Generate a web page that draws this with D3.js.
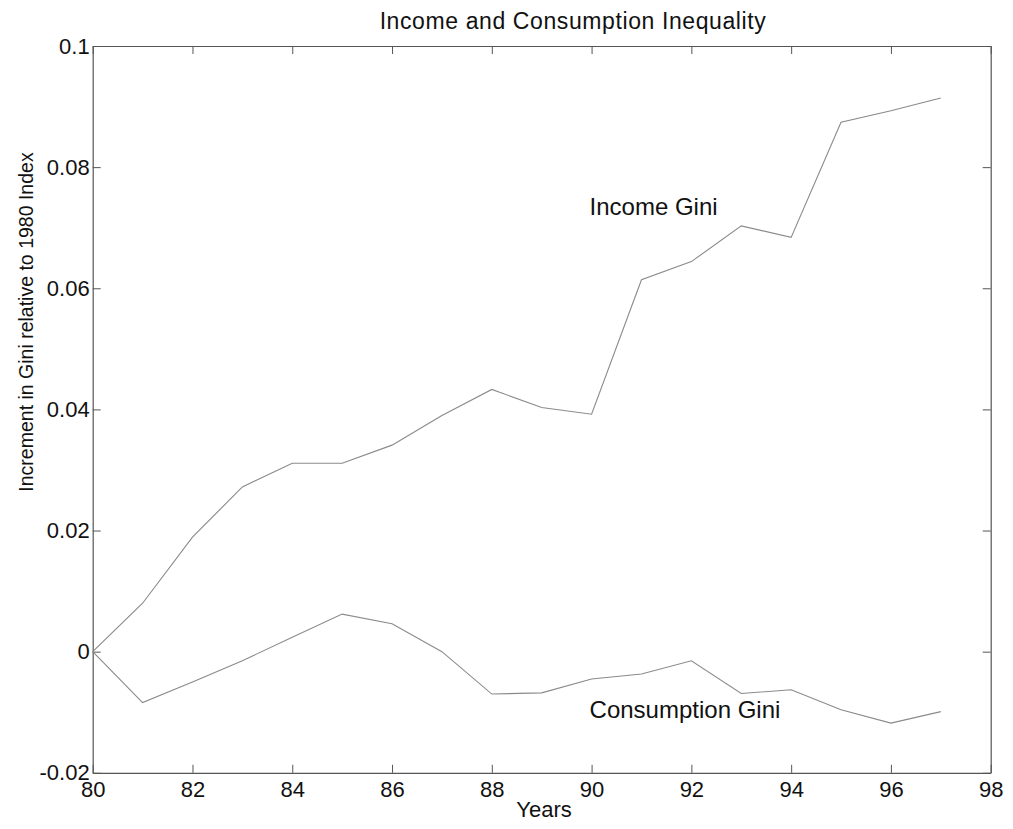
<!DOCTYPE html>
<html>
<head>
<meta charset="utf-8">
<script src="https://cdn.jsdelivr.net/npm/d3@7"></script>
<style>
  body { margin: 0; background: #fff; }
  text { font-family: "Liberation Sans", Arial, Helvetica, sans-serif; fill: #111; }
</style>
</head>
<body>
<div id="chart"></div>
<script>
// data
var years = [80,81,82,83,84,85,86,87,88,89,90,91,92,93,94,95,96,97];
var incomeGini = [0,0.008,0.0189,0.0272,0.0311,0.0311,0.0341,0.039,0.0433,0.0403,0.0392,0.0614,0.0644,0.0703,0.0684,0.0874,0.0893,0.0914];
var consumptionGini = [0,-0.0084,-0.005,-0.0015,0.0024,0.0062,0.0046,0,-0.007,-0.0068,-0.0045,-0.0037,-0.0015,-0.0069,-0.0063,-0.0096,-0.0118,-0.0099];
var xTicks = [80,82,84,86,88,90,92,94,96,98];
var yTicks = [-0.02,0,0.02,0.04,0.06,0.08,0.1];
var yTickLabels = ["-0.02","0","0.02","0.04","0.06","0.08","0.1"];
var labels = [
  {text:"Income Gini", year:90, value:0.0735},
  {text:"Consumption Gini", year:90, value:-0.0096}
];

var width = 1013, height = 829;
var mLeft = 92.7, mRight = 990.7, mTop = 46, mBottom = 772.8;

var svg = d3.select("#chart").append("svg")
    .attr("width", width)
    .attr("height", height);

var x = d3.scaleLinear().domain([80,98]).range([mLeft,mRight]);
var y = d3.scaleLinear().domain([-0.02,0.1]).range([mBottom,mTop]);

// axes, ticks pointing in (box like matlab)
var xAxis = svg.append("g").attr("transform","translate(0,"+mBottom+")")
    .call(d3.axisBottom(x).tickValues(xTicks).tickSizeInner(-8).tickSizeOuter(0).tickPadding(9));
var xTop = svg.append("g").attr("transform","translate(0,"+mTop+")")
    .call(d3.axisTop(x).tickValues(xTicks).tickSizeInner(-8).tickSizeOuter(0).tickFormat(""));
var yAxis = svg.append("g").attr("transform","translate("+mLeft+",0)")
    .call(d3.axisLeft(y).tickValues(yTicks).tickSizeInner(-8).tickSizeOuter(0).tickPadding(3)
      .tickFormat(function(d,i){ return yTickLabels[i]; }));
var yRight = svg.append("g").attr("transform","translate("+mRight+",0)")
    .call(d3.axisRight(y).tickValues(yTicks).tickSizeInner(-8).tickSizeOuter(0).tickFormat(""));

[xAxis,xTop,yAxis,yRight].forEach(function(g){
  g.select(".domain").attr("stroke","#555").attr("stroke-width",1.2);
  g.selectAll(".tick line").attr("stroke","#555");
  g.selectAll("text").attr("font-size",22).attr("fill","#111")
    .style("font-family","'Liberation Sans', Arial, sans-serif");
});

// series
var line = d3.line()
    .x(function(d,i){ return x(years[i]); })
    .y(function(d){ return y(d); });

[incomeGini, consumptionGini].forEach(function(s){
  svg.append("path")
    .datum(s)
    .attr("d", line)
    .attr("fill","none")
    .attr("stroke","#8a8a8a")
    .attr("stroke-width",1.1);
});

// labels on lines
svg.selectAll(".lbl").data(labels).enter().append("text")
    .attr("class","lbl")
    .attr("x", function(d){ return x(d.year) - 2; })
    .attr("y", function(d){ return y(d.value); })
    .attr("dy","0.35em")
    .attr("font-size",24)
    .text(function(d){ return d.text; });

// title and axis titles
svg.append("text")
    .attr("x", 573).attr("y", 29)
    .attr("text-anchor","middle")
    .attr("font-size",23)
    .attr("letter-spacing",0.6)
    .text("Income and Consumption Inequality");

svg.append("text")
    .attr("x", 544).attr("y", 817)
    .attr("text-anchor","middle")
    .attr("font-size",22)
    .text("Years");

svg.append("text")
    .attr("transform","translate(33,322) rotate(-90)")
    .attr("text-anchor","middle")
    .attr("font-size",19.5)
    .text("Increment in Gini relative to 1980 Index");
</script>
</body>
</html>
